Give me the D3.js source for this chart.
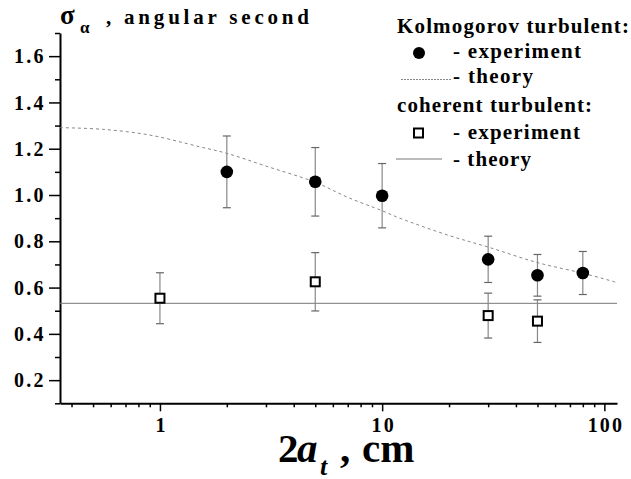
<!DOCTYPE html>
<meta charset="utf-8">
<style type="text/css">
    body { margin: 0; background: white; }
    svg text { font-family: "Liberation Serif", "Times New Roman", serif; font-weight: bold; fill: black }
    .axis path, .axis line { stroke: black }
    .axis text { font-size: 20px; letter-spacing: 2.2px }
</style>
<body>
<script src="https://cdn.jsdelivr.net/npm/d3@7"></script>
<script>
    // Kolmogorov turbulent, experiment
    var kolX   = [2, 5, 10, 30, 50, 80];
    var kolY   = [1.10, 1.057, 0.997, 0.722, 0.653, 0.663];
    var kolErr = [0.155, 0.148, 0.139, 0.100, 0.090, 0.093];

    // Kolmogorov turbulent, theory
    var kolThX = [0.355, 0.55, 0.9, 1.5, 2, 3, 5, 7, 10, 12, 20, 30, 50, 80, 112];
    var kolThY = [1.291, 1.284, 1.259, 1.209, 1.18, 1.125, 1.055, 0.99, 0.932, 0.9, 0.825, 0.775, 0.708, 0.662, 0.624];

    // coherent turbulent, experiment
    var cohX   = [1, 5, 30, 50];
    var cohY   = [0.554, 0.625, 0.479, 0.455];
    var cohErr = [0.110, 0.126, 0.097, 0.092];

    // coherent turbulent, theory (constant)
    var cohTheory = 0.532;

    var xMajor = [1, 10, 100];
    var xMinor = [0.4, 0.5, 0.6, 0.7, 0.8, 0.9, 2, 3, 4, 5, 6, 7, 8, 9, 20, 30, 40, 50, 60, 70, 80, 90];
    var yMajor = [0.2, 0.4, 0.6, 0.8, 1.0, 1.2, 1.4, 1.6];
    var yMinor = [0.1, 0.3, 0.5, 0.7, 0.9, 1.1, 1.3, 1.5, 1.7];

    var w = 631, h = 479;

    var x = d3.scaleLog().domain([0.355, 114]).range([60, 617]);
    var y = d3.scaleLinear().domain([0.1, 1.7]).range([403.3, 33]);

    var svg = d3.select("body").append("svg")
        .attr("width", w).attr("height", h);

    // minor ticks
    svg.append("g").attr("class", "axis")
        .attr("transform", "translate(0," + y(0.1) + ")")
        .call(d3.axisBottom(x).tickValues(xMinor).tickSize(4).tickFormat(""))
        .call(function(g) { g.select(".domain").remove(); g.selectAll("line").attr("stroke-width", 1.5); });
    svg.append("g").attr("class", "axis")
        .attr("transform", "translate(" + x(0.355) + ",0)")
        .call(d3.axisLeft(y).tickValues(yMinor).tickSize(5).tickFormat(""))
        .call(function(g) { g.select(".domain").remove(); g.selectAll("line").attr("stroke-width", 1.5); });

    // major ticks + labels
    var xAxis = svg.append("g").attr("class", "axis")
        .attr("transform", "translate(0," + y(0.1) + ")")
        .call(d3.axisBottom(x).tickValues(xMajor).tickSize(8).tickSizeOuter(0).tickPadding(7).tickFormat(d3.format("d")));
    xAxis.select(".domain").attr("stroke-width", 2);
    xAxis.selectAll("line").attr("stroke-width", 1.5);
    xAxis.selectAll("text").attr("dx", "1.1");

    var yAxis = svg.append("g").attr("class", "axis")
        .attr("transform", "translate(" + x(0.355) + ",0)")
        .call(d3.axisLeft(y).tickValues(yMajor).tickSize(11).tickSizeOuter(0).tickPadding(5.5).tickFormat(d3.format(".1f")));
    yAxis.select(".domain").attr("stroke-width", 2);
    yAxis.selectAll("line").attr("stroke-width", 1.5);
    yAxis.selectAll("text").attr("dx", "2.2").attr("dy", "0.33em");

    // coherent theory line
    svg.append("line")
        .attr("x1", x(0.355)).attr("x2", x(114))
        .attr("y1", y(cohTheory)).attr("y2", y(cohTheory))
        .attr("stroke", "#777").attr("stroke-width", 1);

    // Kolmogorov theory curve
    var line = d3.line()
        .x(function(d, i) { return x(kolThX[i]); })
        .y(function(d) { return y(d); })
        .curve(d3.curveCatmullRom.alpha(0.5));
    svg.append("path")
        .attr("d", line(kolThY))
        .attr("fill", "none").attr("stroke", "#888").attr("stroke-width", 1)
        .attr("stroke-dasharray", "3,3");

    // error bars
    function errorBars(xs, ys, es) {
        var g = svg.append("g").attr("stroke", "#888").attr("stroke-width", 1.2);
        g.selectAll("line.v").data(ys).enter().append("line")
            .attr("x1", function(d, i) { return x(xs[i]); })
            .attr("x2", function(d, i) { return x(xs[i]); })
            .attr("y1", function(d, i) { return y(d + es[i]); })
            .attr("y2", function(d, i) { return y(d - es[i]); });
        [1, -1].forEach(function(s) {
            g.selectAll(null).data(ys).enter().append("line")
                .attr("x1", function(d, i) { return x(xs[i]) - 4; })
                .attr("x2", function(d, i) { return x(xs[i]) + 4; })
                .attr("y1", function(d, i) { return y(d + s * es[i]); })
                .attr("y2", function(d, i) { return y(d + s * es[i]); })
                .attr("stroke", "#666");
        });
    }
    errorBars(kolX, kolY, kolErr);
    errorBars(cohX, cohY, cohErr);

    // markers
    svg.selectAll("circle.kol").data(kolY).enter().append("circle")
        .attr("cx", function(d, i) { return x(kolX[i]); })
        .attr("cy", function(d) { return y(d); })
        .attr("r", 6.3).attr("fill", "black");

    svg.selectAll("rect.coh").data(cohY).enter().append("rect")
        .attr("x", function(d, i) { return x(cohX[i]) - 4.5; })
        .attr("y", function(d) { return y(d) - 4.5; })
        .attr("width", 9).attr("height", 9)
        .attr("fill", "white").attr("stroke", "black").attr("stroke-width", 2);

    // y title
    svg.append("text").attr("x", 60).attr("y", 24).attr("font-size", 27).text("σ");
    svg.append("text").attr("x", 80).attr("y", 33).attr("font-size", 17).text("α");
    svg.append("text").attr("x", 106).attr("y", 24).attr("font-size", 21)
        .attr("textLength", 203).attr("lengthAdjust", "spacing").text(", angular second");

    // x title
    svg.append("text").attr("x", 278).attr("y", 461.7).attr("font-size", 41).text("2");
    svg.append("text").attr("x", 297).attr("y", 461.7).attr("font-size", 41).attr("font-style", "italic").text("a");
    svg.append("text").attr("x", 320).attr("y", 475).attr("font-size", 26).attr("font-style", "italic").text("t");
    svg.append("text").attr("x", 340).attr("y", 461.7).attr("font-size", 41).text(",");
    svg.append("text").attr("x", 362).attr("y", 461.7).attr("font-size", 41).text("cm");

    // legend
    var legend = svg.append("g");
    function legText(tx, ty, len, s) {
        legend.append("text").attr("x", tx).attr("y", ty).attr("font-size", 21)
            .attr("textLength", len).attr("lengthAdjust", "spacing").text(s);
    }
    legText(397, 33, 232, "Kolmogorov turbulent:");
    legend.append("circle").attr("cx", 419).attr("cy", 53).attr("r", 6).attr("fill", "black");
    legText(453, 58, 128, "- experiment");
    legend.append("line").attr("x1", 401).attr("x2", 451).attr("y1", 79.5).attr("y2", 79.5)
        .attr("stroke", "#888").attr("stroke-width", 1).attr("stroke-dasharray", "2,1");
    legText(453, 83, 80, "- theory");
    legText(397, 111.7, 195, "coherent turbulent:");
    legend.append("rect").attr("x", 414).attr("y", 128.5).attr("width", 9).attr("height", 9)
        .attr("fill", "white").attr("stroke", "black").attr("stroke-width", 2);
    legText(453, 139, 127, "- experiment");
    legend.append("line").attr("x1", 396).attr("x2", 442).attr("y1", 159).attr("y2", 159)
        .attr("stroke", "#777").attr("stroke-width", 1);
    legText(453, 165.7, 78, "- theory");
</script>
</body>
